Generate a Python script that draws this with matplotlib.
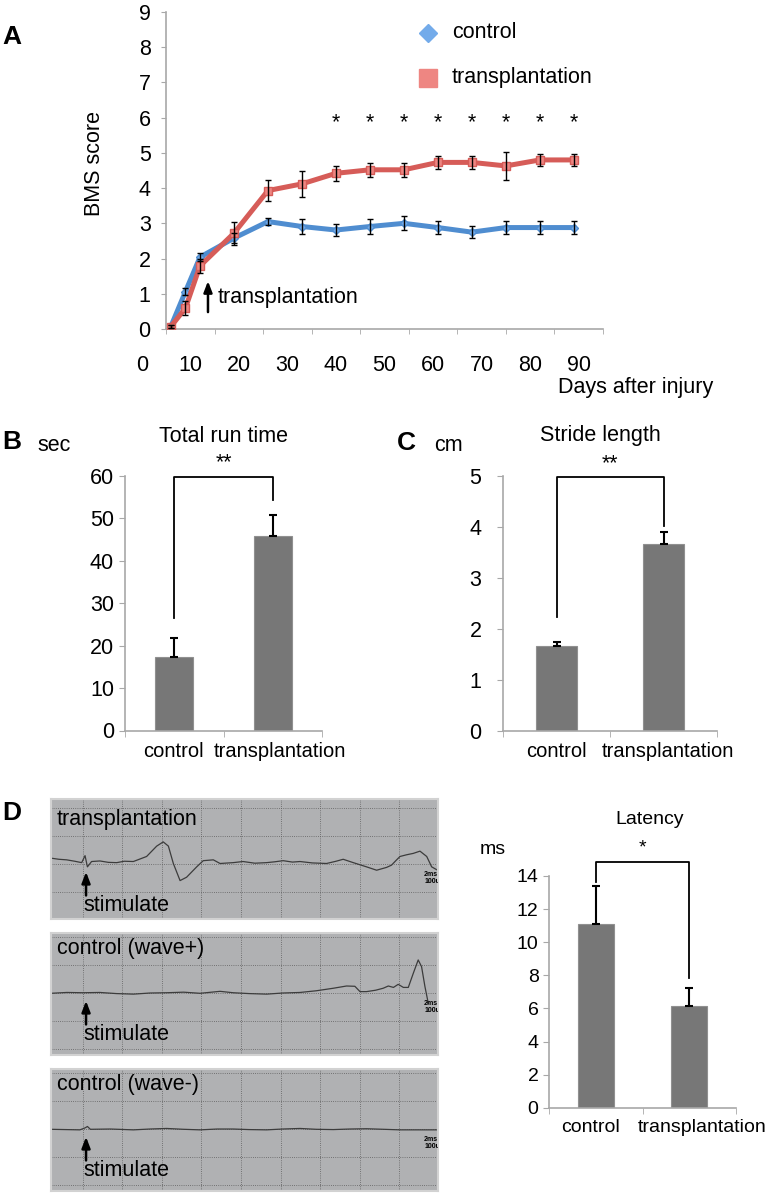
import numpy as np
import matplotlib
matplotlib.use("Agg")
import matplotlib.pyplot as plt
from matplotlib.transforms import ScaledTranslation

plt.rcParams['font.family'] = ['Liberation Sans', 'DejaVu Sans']

W, H, DPI = 771, 1200, 100

# ── A: BMS score ──────────────────────────────────────────────────────────────
days = [6, 9, 12, 19, 26, 33, 40, 47, 54, 61, 68, 75, 82, 89]
bms_control = [0.07, 1.06, 2.04, 2.58, 3.05, 2.91, 2.81, 2.91, 3.0, 2.88, 2.75, 2.88, 2.88, 2.88]
bms_control_err = [0.05, 0.1, 0.12, 0.15, 0.1, 0.22, 0.17, 0.2, 0.2, 0.18, 0.17, 0.18, 0.18, 0.18]
bms_trans = [0.07, 0.59, 1.79, 2.72, 3.93, 4.12, 4.42, 4.52, 4.52, 4.73, 4.73, 4.63, 4.8, 4.8]
bms_trans_err = [0.05, 0.2, 0.2, 0.33, 0.3, 0.38, 0.22, 0.2, 0.2, 0.18, 0.18, 0.4, 0.17, 0.17]
sig_days = [40, 47, 54, 61, 68, 75, 82, 89]
day_labels = [0, 10, 20, 30, 40, 50, 60, 70, 80, 90]

# ── B / C / D bars ────────────────────────────────────────────────────────────
groups = ["control", "transplantation"]
run_time = [17.4, 45.9]
run_time_err = [4.3, 4.8]
stride = [1.66, 3.66]
stride_err = [0.08, 0.24]
latency = [11.08, 6.14]
latency_err = [2.33, 1.07]

# ── D: oscilloscope traces (ms, uV) ───────────────────────────────────────────
tp_time = [-1.6, -1.2, -0.81, -0.4, -0.05, 0.12, 0.24, 0.45, 0.87, 1.3, 1.72, 2.1, 2.56,
           3.23, 3.74, 4.07, 4.33, 4.58, 4.92, 5.25, 5.76, 6.09, 6.6, 6.94, 7.6, 8.1,
           8.7, 9.29, 9.7, 10.13, 10.6, 10.98, 11.6, 12.32, 12.8, 13.16, 13.67, 14.34,
           14.85, 15.35, 15.6, 15.86, 16.03, 16.36, 16.7, 17.04, 17.38, 17.63, 17.88]
tp_uv = [21, 17, 15, 10, 5, 30, -10, 9, 11, 6, 5, 10, 9,
         27, 64, 79, 64, 2, -59, -47, -10, 12, 15, 2, 5, 9,
         3, 5, 8, 12, 7, 9, 4, 2, 10, 17, 5, -10,
         -22, -12, -4, 15, 27, 33, 38, 46, 27, -10, -20]
wp_time = [-1.6, -0.8, 0.03, 0.87, 1.7, 2.56, 3.4, 4.24, 5.1, 5.93, 6.94, 7.6, 8.4, 9.29,
           10.1, 10.98, 11.8, 12.66, 13.33, 13.75, 14.01, 14.34, 14.8, 15.18, 15.44,
           15.7, 15.94, 16.2, 16.45, 16.7, 16.95, 17.12, 17.29, 17.46]
wp_uv = [-1, 2, 1, 2, -2, -4, 0, 1, 3, -1, 6, 1, -2, -4,
         0, 2, 8, 17, 25, 24, 5, 5, 10, 17, 25,
         20, 31, 20, 20, 70, 118, 94, 23, -37]
wm_time = [-1.6, -0.14, 0.12, 0.24, 0.39, 1.4, 2.56, 3.4, 4.24, 5.1, 5.93, 6.8, 7.6,
           8.4, 9.29, 10.1, 10.98, 11.8, 12.66, 13.5, 14.34, 15.2, 16.03, 17.95]
wm_uv = [-1, -3, 4, 9, -1, 0, -3, 0, 2, -1, -3, 0, 0,
         -2, -3, 0, 2, -1, -2, 0, 1, -1, -3, -3]
scope_names = ["transplantation", "control (wave+)", "control (wave-)"]

BLUE, BLUE_M = "#4f8dd0", "#73abea"
RED, RED_M = "#d65c58", "#ee8682"
AXC = "#a8a8a8"
BARC = "#777777"
FS = 15.5
ARROW = dict(arrowstyle="-|>,head_length=0.65,head_width=0.25", color="black",
             lw=1.8, shrinkA=0, shrinkB=0)

fig = plt.figure(figsize=(W / DPI, H / DPI), dpi=DPI)


def px_axes(x0, y0, x1, y1):
    return fig.add_axes([x0 / W, 1 - y1 / H, (x1 - x0) / W, (y1 - y0) / H])


def ftext(x, y, s, **kw):
    kw.setdefault("ha", "center")
    kw.setdefault("va", "center")
    fig.text(x / W, 1 - y / H, s, **kw)


# ── Panel A ───────────────────────────────────────────────────────────────────
ax = px_axes(141.7, 12, 603, 329)
ax.set_xlim(0, 95)
ax.set_ylim(0, 9)
for s in ["top", "right"]:
    ax.spines[s].set_visible(False)
ax.spines["left"].set_position(("data", 5))
ax.spines["bottom"].set_bounds(5, 95)
for s in ["left", "bottom"]:
    ax.spines[s].set_color(AXC)
    ax.spines[s].set_linewidth(1.2)
ax.set_yticks(range(10))
ax.tick_params(axis="y", colors=AXC, labelcolor="black", labelsize=FS, length=3.5, pad=7.5)
ax.set_xticks(day_labels)
ax.set_xticks(np.arange(5, 96, 10), minor=True)
ax.tick_params(axis="x", which="major", length=0, labelsize=FS, pad=18.5)
ax.tick_params(axis="x", which="minor", length=3.5, colors=AXC)

ax.plot(days, bms_control, color=BLUE, lw=3.6, marker="D", ms=4.5,
        mfc=BLUE_M, mec=BLUE, zorder=2)
ax.plot(days, bms_trans, color=RED, lw=3.6, marker="s", ms=6,
        mfc=RED_M, mec=RED, zorder=3)
ax.errorbar(days, bms_control, yerr=bms_control_err, fmt="none", ecolor="black",
            elinewidth=1, capsize=2.2, capthick=1, zorder=4)
ax.errorbar(days, bms_trans, yerr=bms_trans_err, fmt="none", ecolor="black",
            elinewidth=1, capsize=2.2, capthick=1, zorder=4)
for d in sig_days:
    ax.text(d, 5.85, "*", ha="center", va="center", fontsize=FS)

ax.annotate("", xy=(13.65, 1.36), xytext=(13.65, 0.48), arrowprops=ARROW)
ax.text(15.7, 0.9, "transplantation", va="center", fontsize=FS)

# legend
ax.plot([0.6207], [0.9338], transform=ax.transAxes, marker="D", ms=9.5,
        color=BLUE_M, mec=BLUE_M, clip_on=False)
ax.text(0.6727, 0.9338, "control", transform=ax.transAxes, va="center", fontsize=FS)
ax.plot([0.6207], [0.7918], transform=ax.transAxes, marker="s", ms=12.5,
        color=RED_M, mec=RED_M, clip_on=False)
ax.text(0.6727, 0.7918, "transplantation", transform=ax.transAxes, va="center", fontsize=FS)

ftext(95, 163, "BMS score", rotation=90, fontsize=FS)
ftext(636, 387, "Days after injury", fontsize=FS)
ftext(12, 37, "A", fontsize=19, fontweight="bold")


# ── Bar panels ────────────────────────────────────────────────────────────────
def bar_panel(box, vals, errs, ylim, yticks, bracket, star, star_y, fs, xfs, ypad,
              lab_dx, bw=0.39):
    a = px_axes(*box)
    a.set_xlim(-0.5, 1.5)
    a.set_ylim(*ylim)
    a.bar([0, 1], vals, width=bw, color=BARC, edgecolor="#909090", lw=0.8, zorder=2)
    a.errorbar([0, 1], vals, yerr=[[0, 0], errs], fmt="none", ecolor="black",
               elinewidth=1.5, capsize=2.8, capthick=1.5, zorder=3)
    a.plot([0, 0, 1, 1], bracket, color="black", lw=1.3, clip_on=False)
    a.text(0.5, star_y, star, ha="center", va="center", fontsize=fs)
    for s in ["top", "right"]:
        a.spines[s].set_visible(False)
    for s in ["left", "bottom"]:
        a.spines[s].set_color(AXC)
        a.spines[s].set_linewidth(1.2)
    a.set_yticks(yticks)
    a.tick_params(axis="y", colors=AXC, labelcolor="black", labelsize=fs, length=4.5, pad=ypad)
    a.set_xticks([0, 1], groups)
    a.set_xticks([-0.5, 0.5, 1.5], minor=True)
    a.tick_params(axis="x", which="major", length=0, labelsize=xfs, pad=8)
    a.tick_params(axis="x", which="minor", length=4, colors=AXC)
    for lab, dx in zip(a.get_xticklabels(), lab_dx):
        lab.set_transform(lab.get_transform() + ScaledTranslation(dx / DPI, 0, fig.dpi_scale_trans))
    return a


bar_panel((125, 475.7, 322, 730.5), run_time, run_time_err, (0, 60), range(0, 61, 10),
          [26.6, 59.7, 59.7, 54.2], "**", 63, FS, 14.5, 3.5, [-1, 7])
ftext(12, 442, "B", fontsize=19, fontweight="bold")
ftext(54, 446, "sec", fontsize=FS)
ftext(223, 436, "Total run time", fontsize=FS)

bar_panel((503, 475.7, 717, 731), stride, stride_err, (0, 5), range(0, 6),
          [2.23, 4.98, 4.98, 4.02], "**", 5.23, FS, 14.5, 11, [0, 4])
ftext(406, 443, "C", fontsize=19, fontweight="bold")
ftext(448, 446, "cm", fontsize=FS)
ftext(600, 436, "Stride length", fontsize=FS)

bar_panel((549, 876, 736, 1107.7), latency, latency_err, (0, 14), range(0, 15, 2),
          [13.66, 14.87, 14.87, 7.82], "*", 15.7, 14, 14, 3, [-5, 13], bw=0.385)
ftext(650, 819, "Latency", fontsize=14)
ftext(493, 850, "ms", fontsize=14)

# ── Panel D traces ────────────────────────────────────────────────────────────
scope_boxes = [(51, 799, 438, 919), (51, 933, 438, 1055), (51, 1069, 438, 1191)]
scope_ylims = [(-196, 232), (-221, 214), (-221, 214)]
traces = [(tp_time, tp_uv), (wp_time, wp_uv), (wm_time, wm_uv)]
for box, ylim, (t, v), name in zip(scope_boxes, scope_ylims, traces, scope_names):
    a = px_axes(*box)
    a.set_facecolor("#b0b1b3")
    a.set_xlim(-1.6, 17.95)
    a.set_ylim(*ylim)
    a.set_xticks([])
    a.set_yticks([])
    for s in a.spines.values():
        s.set_color("#d2d2d2")
        s.set_linewidth(1.5)
    for gx in range(0, 17, 2):
        a.axvline(gx, color="#5e5e5e", lw=0.6, ls=(0, (1, 1.6)), zorder=1)
    for gy in range(-200, 201, 100):
        a.axhline(gy, color="#5e5e5e", lw=0.6, ls=(0, (1, 1.6)), zorder=1)
    a.plot(t, v, color="#3c3c3c", lw=0.9, zorder=2)
    a.text(-1.3, 158, name, va="center", fontsize=FS, zorder=3)
    a.text(0.02, -148, "stimulate", va="center", fontsize=FS, zorder=3)
    a.annotate("", xy=(0.17, -28), xytext=(0.17, -112), arrowprops=ARROW, zorder=3)
    a.text(17.25, -50, "2ms\n100uV", fontsize=5, fontweight="bold", ha="left",
           va="center", linespacing=0.9, clip_on=True)

ftext(12, 813, "D", fontsize=19, fontweight="bold")

fig.savefig("out.png", dpi=DPI)
